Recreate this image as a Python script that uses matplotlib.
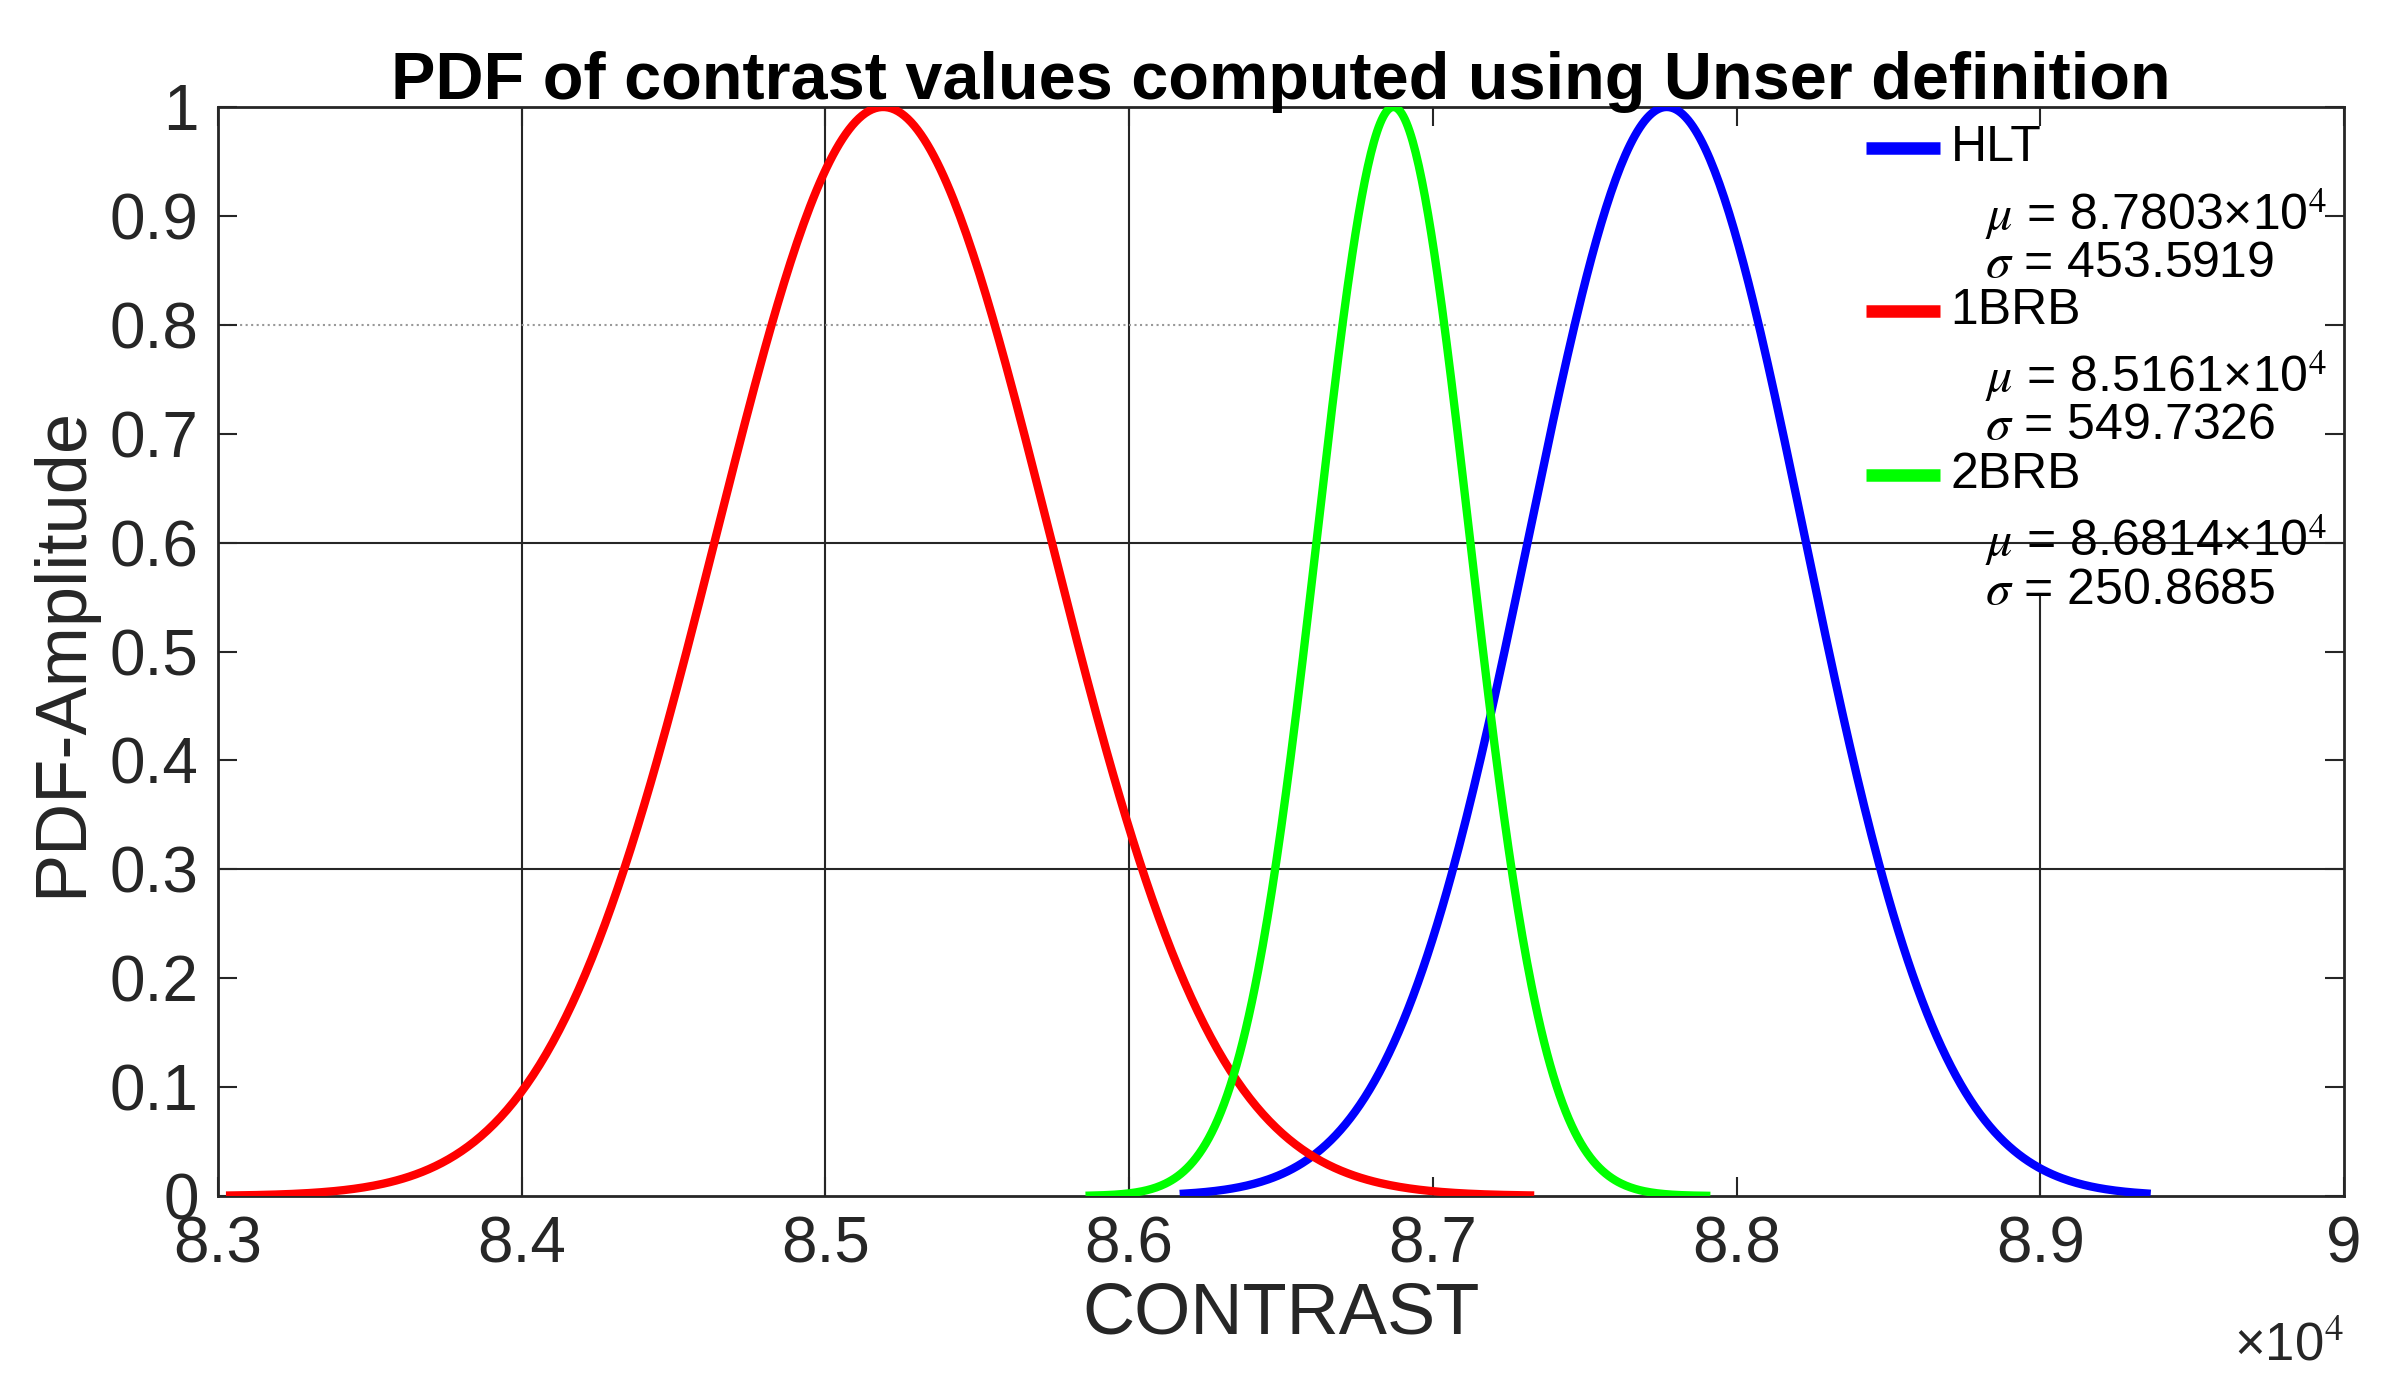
import numpy as np
import matplotlib
matplotlib.use("Agg")
import matplotlib.pyplot as plt

plt.rcParams['font.family'] = ['Liberation Sans', 'DejaVu Sans']
plt.rcParams['mathtext.fontset'] = 'stix'

names = ["HLT", "1BRB", "2BRB"]
mus = [8.7803e4, 8.5161e4, 8.6814e4]
sigmas = [453.5919, 549.7326, 250.8685]
mu_txt = ["8.7803", "8.5161", "8.6814"]
peaks = [8.777e4, 8.519e4, 8.687e4]          # peak positions as drawn
x_lo = [8.618e4, 8.304e4, 8.587e4]
x_hi = [8.935e4, 8.732e4, 8.790e4]
colors = ["#0000ff", "#ff0000", "#00ff00"]

fig = plt.figure(figsize=(23.87, 13.75), dpi=100)
ax = fig.add_axes([218/2387, 1-1196/1375, (2344-218)/2387, (1196-107)/1375])

for xv in [8.4e4, 8.5e4, 8.6e4]:
    ax.axvline(xv, color="#262626", lw=1.5, zorder=1)
ax.plot([8.9e4, 8.9e4], [0, 0.55], color="#262626", lw=1.5, zorder=1)
for yv in [0.3, 0.6]:
    ax.axhline(yv, color="#262626", lw=1.5, zorder=1)
ax.plot([8.3e4, 8.81e4], [0.8, 0.8], color="#999999", lw=1.5, ls=":", zorder=1)

for p, s, lo, hi, c in zip(peaks, sigmas, x_lo, x_hi, colors):
    x = np.linspace(lo, hi, 400)
    y = np.exp(-0.5 * ((x - p) / s) ** 2)
    ax.plot(x, y, color=c, lw=6, zorder=3)

ax.set_xlim(8.3e4, 9.0e4)
ax.set_ylim(0, 1)
ax.set_xticks(np.arange(8.3e4, 9.01e4, 0.1e4))
ax.set_xticklabels(["8.3", "8.4", "8.5", "8.6", "8.7", "8.8", "8.9", "9"])
ax.set_yticks(np.arange(0, 1.01, 0.1))
ax.set_yticklabels(["0", "0.1", "0.2", "0.3", "0.4", "0.5", "0.6", "0.7", "0.8", "0.9", "1"])
ax.tick_params(labelsize=46, direction="in", length=14, width=1.5, colors="#262626",
               top=True, right=True, pad=14)
for sp in ax.spines.values():
    sp.set_linewidth(2)
    sp.set_color("#262626")
ax.text(1.0, -0.115, r"×10$^4$", transform=ax.transAxes, ha="right", va="top",
        fontsize=38, color="#262626")
ax.set_xlabel("CONTRAST", fontsize=52, color="#262626", labelpad=4)
ax.set_ylabel("PDF-Amplitude", fontsize=52, color="#262626", labelpad=10)
ax.set_title("PDF of contrast values computed using Unser definition", fontsize=48,
             fontweight="bold", pad=6)

# legend drawn by hand (MATLAB style: handle beside name, stats below)
row_y = [0.962, 0.813, 0.662]
for n, mt, s, c, ry in zip(names, mu_txt, sigmas, colors, row_y):
    ax.plot([0.775, 0.81], [ry, ry], color=c, lw=9, transform=ax.transAxes,
            solid_capstyle="butt", zorder=4)
    ax.text(0.815, ry, n, transform=ax.transAxes, fontsize=36, va="center", zorder=4)
    ax.text(0.831, ry - 0.06, f"$\\mu$ = {mt}×10$^4$", transform=ax.transAxes,
            fontsize=36, va="center", zorder=4)
    ax.text(0.831, ry - 0.106, f"$\\sigma$ = {s:.4f}", transform=ax.transAxes,
            fontsize=36, va="center", zorder=4)

fig.savefig("out.png", dpi=100)
